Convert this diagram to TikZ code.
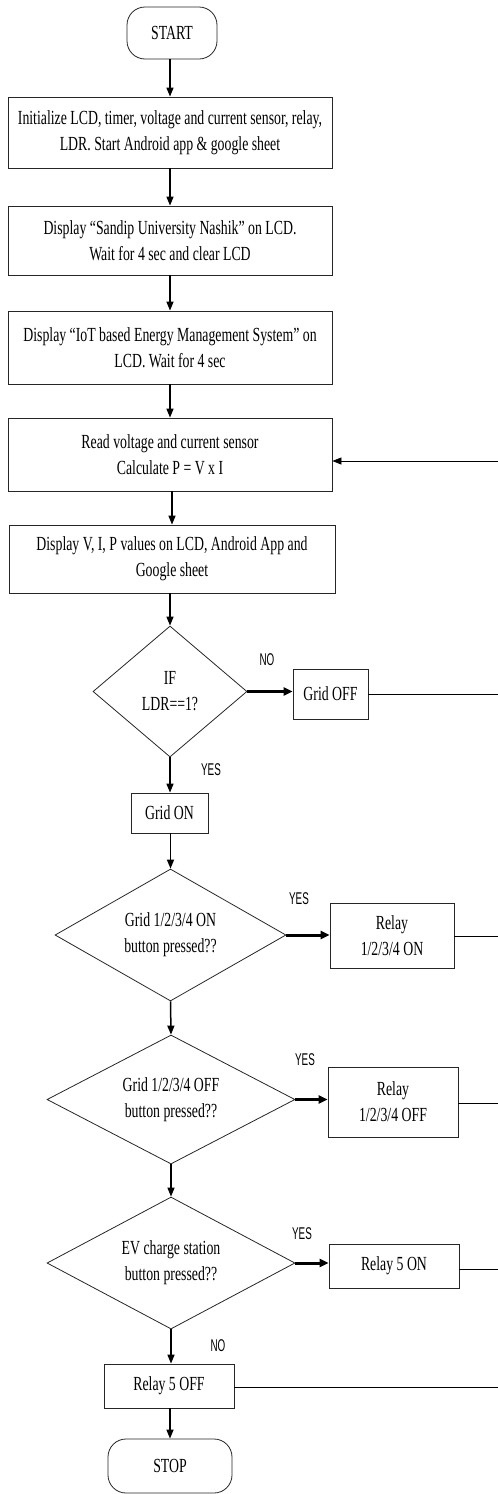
\documentclass[tikz,border=0pt]{standalone}
\usepackage{fontspec}
\setmainfont{Liberation Serif}[FakeStretch=0.69]
\newfontfamily\labfont{Liberation Sans}[FakeStretch=0.58]
\usetikzlibrary{shapes.geometric,arrows.meta}
\newcommand{\bodyfs}{\fontsize{20}{26}\selectfont}
\tikzset{
  box/.style={draw=black!85, line width=0.8pt, align=center, inner sep=2pt, font=\bodyfs},
  term/.style={box, rounded corners=18pt},
  dia/.style={draw=black!85, line width=0.8pt, shape=diamond, inner sep=0pt},
  txt/.style={align=center, font=\bodyfs, inner sep=0pt},
  lab/.style={font=\labfont\fontsize{17}{17}\selectfont, inner sep=0pt},
  arr/.style={-{Triangle[length=9pt,width=7pt]}, line width=1.5pt},
  thk/.style={-{Triangle[length=9pt,width=8pt]}, line width=3pt},
  ln/.style={line width=0.8pt},
}
\begin{document}
\begin{tikzpicture}[x=1pt,y=-1pt]
\useasboundingbox (0,0) rectangle (498,1494);
% nodes
\node[term, minimum width=90pt, minimum height=52pt] (start) at (172,33) {START};
\node[box, minimum width=324pt, minimum height=71pt] (init) at (170,132.5)
  {Initialize LCD, timer, voltage and current sensor, relay,\\LDR. Start Android app \& google sheet};
\node[box, minimum width=324pt, minimum height=69pt] (sandip) at (170,240.5)
  {Display “Sandip University Nashik” on LCD.\\Wait for 4 sec and clear LCD};
\node[box, minimum width=324pt, minimum height=73pt] (iot) at (170,347.5)
  {Display “IoT based Energy Management System” on\\LCD. Wait for 4 sec};
\node[box, minimum width=324pt, minimum height=73pt] (read) at (170,454.5)
  {Read voltage and current sensor\\Calculate P = V x I};
\node[box, minimum width=326pt, minimum height=68pt] (disp) at (172,559)
  {Display V, I, P values on LCD, Android App and\\Google sheet};
\node[dia, minimum width=154pt, minimum height=131pt] (d1) at (170,691.5) {};
\node[txt] (t1) at (d1) {IF\\LDR==1?};
\node[box, minimum width=75pt, minimum height=50pt] (goff) at (330.5,694) {Grid OFF};
\node[box, minimum width=77pt, minimum height=40pt] (gon) at (169.5,813) {Grid ON};
\node[dia, minimum width=231pt, minimum height=132pt] (d2) at (170.5,935) {};
\node[txt] (t2) at (d2) {Grid 1/2/3/4 ON\\button pressed??};
\node[box, minimum width=124pt, minimum height=65pt] (r1) at (392,935.5) {Relay\\1/2/3/4 ON};
\node[dia, minimum width=248pt, minimum height=129pt] (d3) at (171,1099.5) {};
\node[txt] (t3) at (d3) {Grid 1/2/3/4 OFF\\button pressed??};
\node[box, minimum width=130pt, minimum height=70pt] (r2) at (393,1102) {Relay\\1/2/3/4 OFF};
\node[dia, minimum width=248pt, minimum height=132pt] (d4) at (171,1263) {};
\node[txt] (t4) at (d4) {EV charge station\\button pressed??};
\node[box, minimum width=130pt, minimum height=44pt] (r3) at (394,1266) {Relay 5 ON};
\node[box, minimum width=130pt, minimum height=44pt] (r4) at (169,1386) {Relay 5 OFF};
\node[term, minimum width=124pt, minimum height=54pt] (stop) at (170,1466) {STOP};
% labels
\node[lab] (l1) at (267,660) {NO};
\node[lab] (l2) at (211,770) {YES};
\node[lab] (l3) at (299,899) {YES};
\node[lab] (l4) at (305,1060) {YES};
\node[lab] (l5) at (302,1234) {YES};
\node[lab] (l6) at (218,1346) {NO};
% right edge coordinates
\coordinate (ret) at (498,461);
\coordinate (e1) at (498,694);
\coordinate (e2) at (498,936);
\coordinate (e3) at (498,1103);
\coordinate (e4) at (498,1269);
\coordinate (e5) at (498,1387);
% connectors
\draw[arr] (start.south -| init.north) -- (init.north);
\draw[arr] (init) -- (sandip);
\draw[arr] (sandip) -- (iot);
\draw[arr] (iot) -- (read);
\draw[arr] (read.south -| disp.north) -- (disp);
\draw[arr] (disp.south -| d1.north) -- (d1.north);
\draw[thk] (d1.east) -- (goff.west |- d1.east);
\draw[arr] (d1.south) -- (gon.north -| d1.south);
\draw[arr] (gon.south -| d2.north) -- (d2.north);
\draw[thk] (d2.east) -- (r1.west |- d2.east);
\draw[arr] (d2.south) -- (d3.north);
\draw[thk] (d3.east) -- (r2.west |- d3.east);
\draw[arr] (d3.south) -- (d4.north);
\draw[thk] (d4.east) -- (r3.west |- d4.east);
\draw[arr] (d4.south) -- (r4.north -| d4.south);
\draw[arr] (r4.south -| stop.north) -- (stop.north);
% lines to the right edge
\draw[ln] (goff.east |- e1) -- (e1);
\draw[ln] (r1.east |- e2) -- (e2);
\draw[ln] (r2.east |- e3) -- (e3);
\draw[ln] (r3.east |- e4) -- (e4);
\draw[ln] (r4.east |- e5) -- (e5);
\draw[ln, -{Triangle[length=9pt,width=7pt]}] (ret) -- (ret -| read.east);
\end{tikzpicture}
\end{document}
